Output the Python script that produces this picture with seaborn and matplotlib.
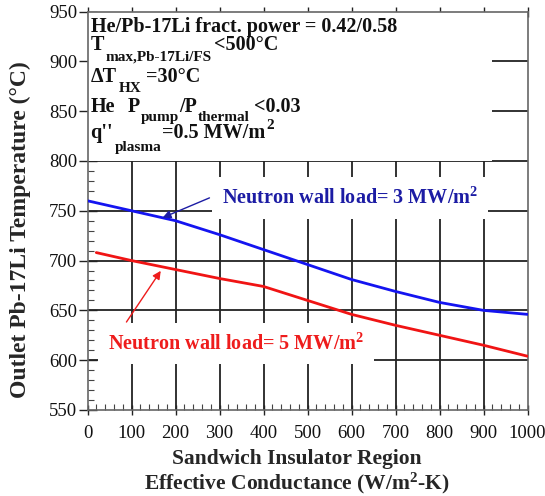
import numpy as np
import pandas as pd
import matplotlib
matplotlib.use("Agg")
import matplotlib.pyplot as plt
import matplotlib.transforms as mtransforms
from matplotlib.patches import Rectangle
from matplotlib.ticker import MultipleLocator
import seaborn as sns

# values
conductance = [0, 100, 200, 300, 400, 500, 600, 700, 800, 900, 1000]
temp_3mw = [760, 750, 740, 726, 711, 696, 681, 669, 658, 650, 646]
conductance_5mw = [20, 100, 200, 300, 400, 500, 600, 700, 800, 900, 1000]
temp_5mw = [708, 700, 691, 682, 674, 660, 646, 635, 625, 615, 604]

df = pd.concat([
    pd.DataFrame({"k": conductance, "T": temp_3mw, "load": "3"}),
    pd.DataFrame({"k": conductance_5mw, "T": temp_5mw, "load": "5"}),
])

sns.set_theme(style="ticks")
plt.rcParams["font.family"] = ["Liberation Serif", "DejaVu Serif"]
plt.rcParams["mathtext.fontset"] = "custom"
plt.rcParams["mathtext.rm"] = "Liberation Serif:bold"
plt.rcParams["mathtext.it"] = "Liberation Serif:bold"
plt.rcParams["mathtext.bf"] = "Liberation Serif:bold"

fig = plt.figure(figsize=(5.45, 4.96), dpi=100)
ax = fig.add_axes([87.5 / 545, 1 - 410 / 496, 440 / 545, 398.5 / 496])

sns.lineplot(data=df, x="k", y="T", hue="load", palette={"3": "#1414f0", "5": "#f01414"},
             lw=2, legend=False, ax=ax, zorder=3)

ax.set_xlim(0, 1000)
ax.set_ylim(550, 950)
ax.xaxis.set_major_locator(MultipleLocator(100))
ax.xaxis.set_minor_locator(MultipleLocator(20))
ax.yaxis.set_major_locator(MultipleLocator(50))
ax.yaxis.set_minor_locator(MultipleLocator(10))

# grid drawn by hand so the white boxes can hide it but not the ticks
xt = [v for v in ax.get_xticks() if 0 < v < 1000]
yt = [v for v in ax.get_yticks() if 550 < v < 950]
ax.vlines(xt, 550, 950, color="#222222", lw=1.3, zorder=0.4)
ax.hlines(yt, 0, 1000, color="#222222", lw=1.3, zorder=0.4)

ax.tick_params(axis="y", which="major", direction="inout", length=13, width=1, labelsize=13.5,
               colors="#222222", pad=1)
ax.tick_params(axis="y", which="minor", direction="in", length=4, width=0.8, colors="#444444")
ax.tick_params(axis="x", which="major", direction="inout", length=7, width=1, labelsize=13.5,
               top=True, colors="#222222", pad=7)
ax.tick_params(axis="x", which="minor", direction="in", length=4, width=0.8, colors="#444444")
ax.tick_params(axis="both", labelcolor="#111111")
for s in ax.spines.values():
    s.set_color("#666666")
    s.set_linewidth(1.2)

ax.set_xlabel("Sandwich Insulator Region\nEffective Conductance (W/m$^{2}$-K)",
              fontsize=15.5, fontweight="bold", linespacing=1.1)
ax.set_ylabel("Outlet Pb-17Li Temperature (°C)", fontsize=17, fontweight="bold")
ax.xaxis.set_label_coords(0.476, -0.097)
ax.yaxis.set_label_coords(-0.128, 0.452)

# white box behind the operating conditions
ax.add_patch(Rectangle((0, 800), 920, 150, facecolor="white", edgecolor="none", zorder=1))

renderer = fig.canvas.get_renderer()


def rich_line(x, y, parts, color="#111111"):
    # parts: (text, fontsize, vertical shift in points, gap after in points)
    dx = 0.0
    for s, size, dy, gap in parts:
        tr = mtransforms.offset_copy(ax.transData, fig=fig, x=dx, y=dy, units="points")
        t = ax.text(x, y, s, transform=tr, fontsize=size, fontweight="bold", color=color,
                    va="baseline", ha="left", zorder=4)
        dx += t.get_window_extent(renderer).width * 72 / fig.dpi + gap


M, S = 14.5, 11
rich_line(7, 929.4, [("He/Pb-17Li fract. power = 0.42/0.58", M, 0, 0)])
rich_line(7, 911, [("T", M, 0, 1.5), ("max,Pb-17Li/FS", S, -7, 1), ("<500°C", M, 0, 0)])
rich_line(7, 879.3, [("ΔT", M, 0, 1.5), ("HX", S, -7, 3), ("=30°C", M, 0, 0)])
rich_line(7, 849.2, [("He", M, 0, 9), ("P", M, 0, 0.5), ("pump", S, -6.5, 0.5), ("/P", M, 0, 0.5),
                     ("thermal", S, -6.5, 3), ("<0.03", M, 0, 0)])
rich_line(7, 822.8, [("q''", M, 0, 1), ("plasma", S, -9, 0.5), ("=0.5 MW/m", M, 0, 1),
                     ("2", S, 6.5, 0)])

ax.text(305, 757.2, "Neutron wall load= 3 MW/m$^{2}$", fontsize=14.5, fontweight="bold",
        color="#1c1ca4", va="baseline", zorder=1.5,
        bbox=dict(boxstyle="square,pad=0.5", facecolor="white", edgecolor="none"))
ax.text(47, 610.8, "Neutron wall load= 5 MW/m$^{2}$", fontsize=14.5, fontweight="bold",
        color="#ee1c1c", va="baseline", zorder=1.5,
        bbox=dict(boxstyle="square,pad=0.5", facecolor="white", edgecolor="none"))

ax.annotate("", xy=(165, 742), xytext=(283, 764),
            arrowprops=dict(arrowstyle="-|>", color="#1c1ca4", lw=1, mutation_scale=12), zorder=4)
ax.annotate("", xy=(170, 692), xytext=(85, 636),
            arrowprops=dict(arrowstyle="-|>", color="#ee1c1c", lw=1, mutation_scale=12), zorder=4)

fig.savefig("out.png", dpi=100)
